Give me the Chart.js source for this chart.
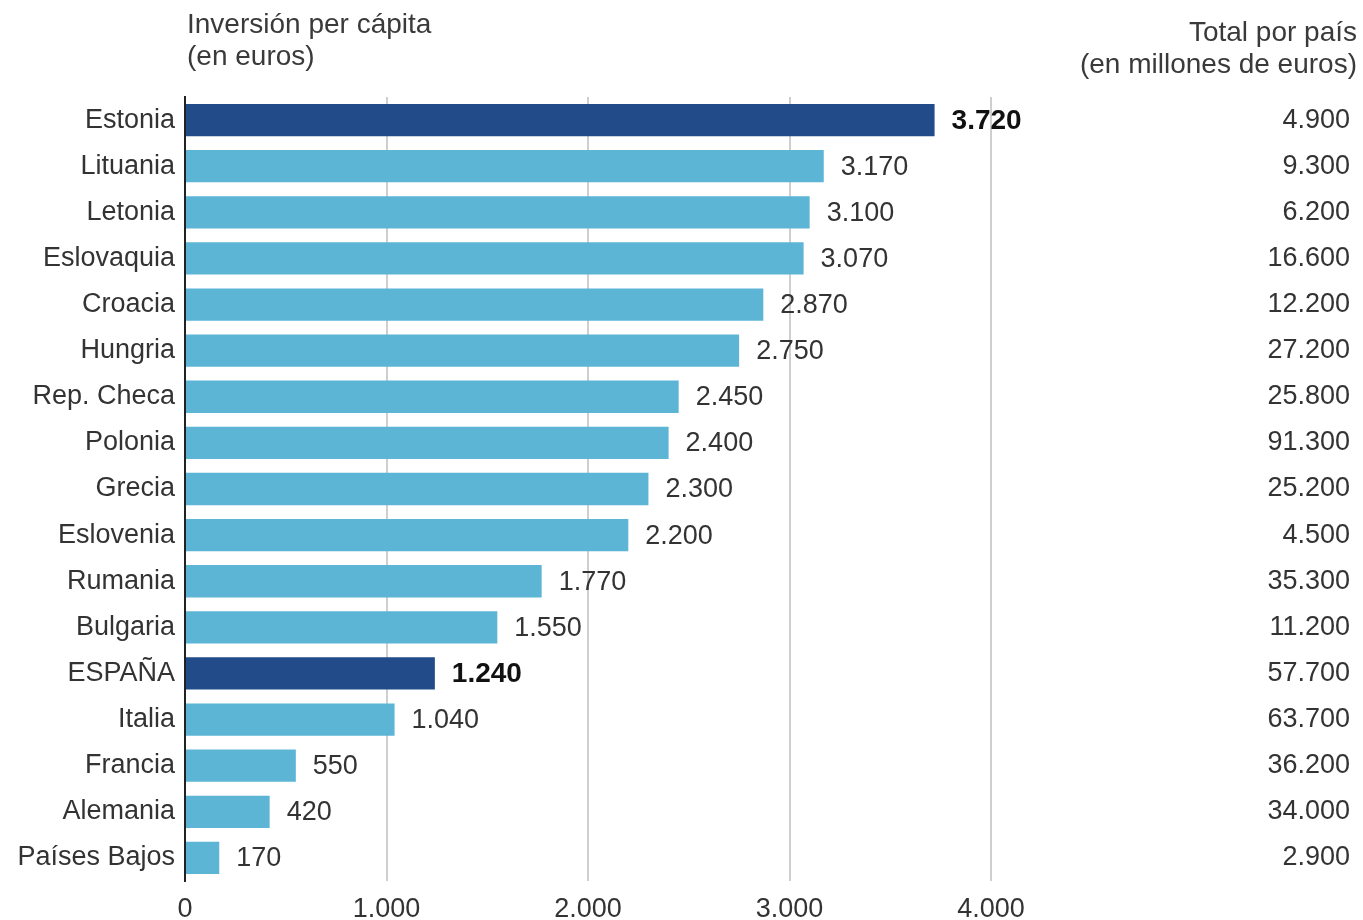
<!DOCTYPE html>
<html>
<head>
<meta charset="utf-8">
<script src="https://cdn.jsdelivr.net/npm/chart.js@4.4.1/dist/chart.umd.min.js"></script>
<style>
  body { margin: 0; background: #fff; font-family: "Liberation Sans", Arial, sans-serif; color: #333; }
  #wrap { position: relative; width: 1363px; height: 920px; }
  .head { position: absolute; font-size: 28px; line-height: 32px; color: #3a3a3a; }
  #headLeft { left: 187px; top: 8px; }
  #headRight { right: 6px; top: 16px; text-align: right; }
</style>
</head>
<body>
<div id="wrap">
  <canvas id="chart" width="1363" height="920"></canvas>
  <div class="head" id="headLeft">Inversión per cápita<br>(en euros)</div>
  <div class="head" id="headRight">Total por país<br>(en millones de euros)</div>
</div>
<script>
const countries = ['Estonia', 'Lituania', 'Letonia', 'Eslovaquia', 'Croacia', 'Hungria', 'Rep. Checa',
  'Polonia', 'Grecia', 'Eslovenia', 'Rumania', 'Bulgaria', 'ESPAÑA', 'Italia', 'Francia', 'Alemania', 'Países Bajos'];
const perCapita = [3720, 3170, 3100, 3070, 2870, 2750, 2450, 2400, 2300, 2200, 1770, 1550, 1240, 1040, 550, 420, 170];
const totals = [4900, 9300, 6200, 16600, 12200, 27200, 25800, 91300, 25200, 4500, 35300, 11200, 57700, 63700, 36200, 34000, 2900];
const highlighted = ['Estonia', 'ESPAÑA'];
const xTicks = [0, 1000, 2000, 3000, 4000];

const lightBlue = '#5db5d6';
const darkBlue = '#214c89';

function fmt(n) {
    return String(n).replace(/\B(?=(\d{3})+(?!\d))/g, '.');
}

// value labels at bar ends + right-hand totals column
const labelsPlugin = {
    id: 'labels',
    afterDatasetsDraw(chart) {
        const ctx = chart.ctx;
        const meta = chart.getDatasetMeta(0);
        const yScale = chart.scales.y;
        ctx.save();
        ctx.textBaseline = 'middle';
        meta.data.forEach((bar, i) => {
            const bold = highlighted.includes(countries[i]);
            ctx.font = (bold ? 'bold 28px ' : '27px ') + '"Liberation Sans", Arial, sans-serif';
            ctx.fillStyle = bold ? '#111' : '#333';
            ctx.textAlign = 'left';
            ctx.fillText(fmt(perCapita[i]), bar.x + 17, bar.y + 1);

            ctx.font = '27px "Liberation Sans", Arial, sans-serif';
            ctx.fillStyle = '#333';
            ctx.textAlign = 'right';
            ctx.fillText(fmt(totals[i]), 1350, yScale.getPixelForValue(i));
        });
        ctx.restore();
    }
};

new Chart(document.getElementById('chart'), {
    type: 'bar',
    data: {
        labels: countries,
        datasets: [{
            data: perCapita,
            backgroundColor: countries.map(c => highlighted.includes(c) ? darkBlue : lightBlue),
            barPercentage: 0.7,
            categoryPercentage: 1.0
        }]
    },
    options: {
        indexAxis: 'y',
        responsive: false,
        animation: false,
        layout: { padding: { top: 97, right: 372, left: 0, bottom: 0 } },
        plugins: {
            legend: { display: false },
            tooltip: { enabled: false }
        },
        scales: {
            x: {
                min: 0,
                max: 4000,
                afterBuildTicks: scale => { scale.ticks = xTicks.map(v => ({ value: v })); },
                afterFit: scale => { scale.height = 39; },
                grid: { color: '#cfcfcf', lineWidth: 2, drawTicks: false },
                border: { display: false },
                ticks: {
                    padding: 12,
                    color: '#333',
                    font: { family: '"Liberation Sans", Arial, sans-serif', size: 27 },
                    callback: v => fmt(v)
                }
            },
            y: {
                afterFit: scale => { scale.width = 185; },
                grid: { display: false, drawTicks: false },
                border: { display: true, color: '#222', width: 2 },
                ticks: {
                    padding: 10,
                    color: '#333',
                    font: { family: '"Liberation Sans", Arial, sans-serif', size: 27 }
                }
            }
        }
    },
    plugins: [labelsPlugin]
});
</script>
</body>
</html>
